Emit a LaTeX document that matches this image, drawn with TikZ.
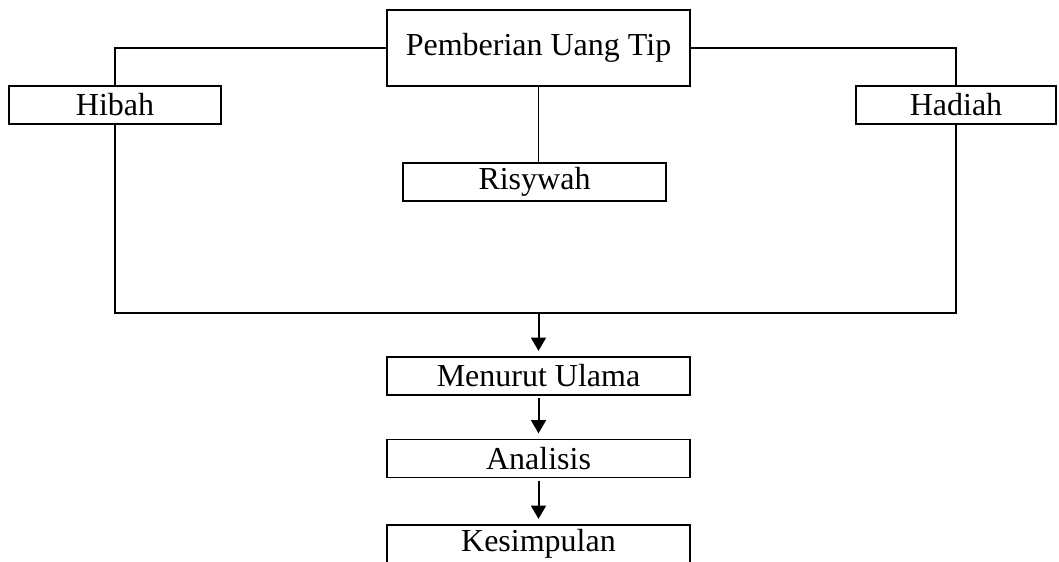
\documentclass[tikz,border=0pt]{standalone}
\usepackage{fontspec}
\setmainfont{Liberation Serif}
\usetikzlibrary{arrows.meta,positioning,calc}

\begin{document}
\begin{tikzpicture}[
  x=0.375pt,y=-0.375pt,
  tipbox/.style={draw,line width=0.6pt,inner sep=0pt,
    font=\fontsize{12}{14}\selectfont,minimum height=14.25pt},
  wide/.style={minimum width=113.6pt},
  link/.style={line width=0.45pt},
  flowarrow/.style={line width=0.75pt,-{Triangle[length=5pt,width=5.6pt]}}
]
  \clip (0,0) rectangle (1059,561);
  % top level
  \node[tipbox,wide,minimum height=28.5pt] (tip) at (538.5,48) {Pemberian Uang Tip};
  \node[tipbox,minimum width=79.5pt] (hibah) at (115,105) {Hibah};
  \node[tipbox,minimum width=75pt] (hadiah) at (956,105) {Hadiah};
  \node[tipbox,minimum width=98.6pt] (risywah) at (534.5,182) {Risywah};
  % flow below
  \node[tipbox,wide] (ulama) at (538.5,376) {Menurut Ulama};
  \node[tipbox,wide] (analisis) at (538.5,458.5) {Analisis};
  \node[tipbox,wide] (simpul) at (538.5,544) {Kesimpulan};
  \coordinate (gabung) at (538.5,313);

  \draw[link] (tip.west) -| (hibah.north);
  \draw[link] (tip.east) -| (hadiah.north);
  \draw[link] (tip.south) -- (tip.south |- risywah.north);
  \draw[link,line width=0.55pt] (hibah.south) -- (hibah.south |- gabung)
    -- (hadiah.south |- gabung) -- (hadiah.south);
  \draw[flowarrow,shorten >=2pt] (gabung) -- (ulama.north);
  \draw[flowarrow,shorten <=1pt,shorten >=2pt] (ulama) -- (analisis);
  \draw[flowarrow,shorten <=1pt,shorten >=2pt] (analisis) -- (simpul);
\end{tikzpicture}
\end{document}
